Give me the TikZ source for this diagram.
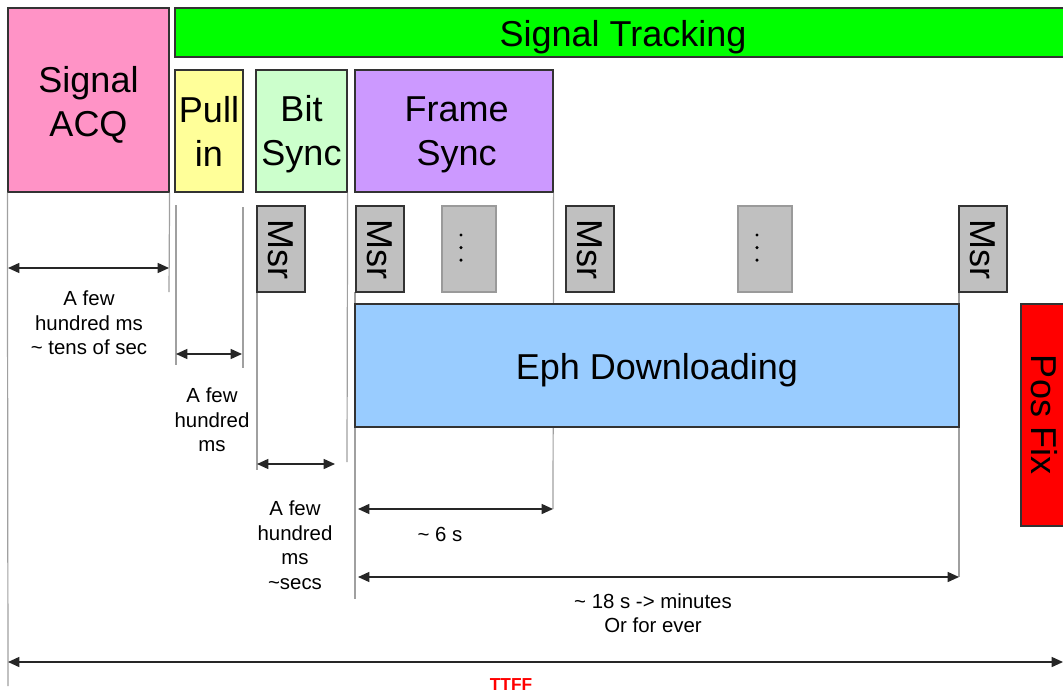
\documentclass[tikz,border=0pt]{standalone}
\usepackage{fontspec}
\setmainfont{Liberation Sans}
\usetikzlibrary{arrows.meta}
\definecolor{acqpink}{HTML}{FF93C6}
\definecolor{trackgreen}{HTML}{00FF00}
\definecolor{pullyellow}{HTML}{FFFF99}
\definecolor{bitgreen}{HTML}{CCFFCC}
\definecolor{framepurple}{HTML}{CC99FF}
\definecolor{msrgray}{HTML}{C0C0C0}
\definecolor{ephblue}{HTML}{99CCFF}
\definecolor{fixred}{HTML}{FF0000}
\definecolor{boxline}{HTML}{333333}
\definecolor{guidegray}{HTML}{A0A0A0}
\definecolor{dotline}{HTML}{9A9A9A}
\definecolor{ttffred}{HTML}{FF0000}
\begin{document}
\begin{tikzpicture}[x=0.75pt,y=-0.75pt,
  phase/.style={draw=boxline, line width=0.9pt, inner sep=0pt, align=center,
    font=\fontsize{27}{33}\selectfont,
    execute at begin node={\rule{0pt}{27pt}},
    execute at end node={\rule[-6pt]{0pt}{6pt}}},
  ptext/.style={align=center, inner sep=0pt, font=\fontsize{27}{33}\selectfont},
  msrbox/.style={draw=boxline, line width=0.9pt, inner sep=0pt, align=center,
    font=\fontsize{27}{33}\selectfont, fill=msrgray, rotate=-90,
    minimum width=64.5pt, minimum height=36pt},
  dotbox/.style={draw=dotline, line width=0.8pt, fill=msrgray, inner sep=0pt,
    minimum width=40.5pt, minimum height=64.5pt},
  guide/.style={draw=guidegray, line width=0.9pt},
  span/.style={draw=black!85, line width=1.1pt, {Triangle[length=8.5pt,width=7.5pt]}-{Triangle[length=8.5pt,width=7.5pt]}},
  note/.style={align=center, inner sep=0pt, font=\fontsize{15.3}{18.4}\selectfont}]
\useasboundingbox (0,0) rectangle (1063,696);

% phase boxes
\node[draw=boxline, line width=0.9pt, fill=acqpink, minimum width=120.75pt, minimum height=138pt,
  label={[ptext, yshift=-3.4pt]center:Signal\\ACQ}] (acq) at (88.5,100) {};
\node[phase, fill=trackgreen, minimum width=672pt, minimum height=36.75pt] (track) at (623,32.5) {Signal Tracking};
\node[draw=boxline, line width=0.9pt, fill=pullyellow, minimum width=51pt, minimum height=91.5pt,
  label={[ptext]center:Pull\\in}] (pull) at (209,131) {};
\node[draw=boxline, line width=0.9pt, fill=bitgreen, minimum width=68.25pt, minimum height=91.5pt,
  label={[ptext, yshift=-2.2pt]center:Bit\\Sync}] (bit) at (301.5,131) {};
\node[draw=boxline, line width=0.9pt, fill=framepurple, minimum width=148.5pt, minimum height=91.5pt,
  label={[ptext, yshift=-3.2pt, xshift=2pt]center:Frame\\Sync}] (frame) at (454,131) {};

% guide lines (drawn before the boxes that cover them)
\coordinate (acqL) at (8,686);
\coordinate (acqRb) at (169,292);
\coordinate (pullLt) at (176,205);
\coordinate (pullLb) at (176,365);
\coordinate (pullRt) at (243,207);
\coordinate (pullRb) at (243,368);
\coordinate (bitLt) at (257,292);
\coordinate (bitLb) at (257,470);
\coordinate (bitRb) at (347,462);
\coordinate (frameLt) at (355,292);
\coordinate (frameLb) at (355,599);
\coordinate (frameRb) at (553,509);
\coordinate (ephRt) at (959,292);
\coordinate (ephRb) at (959,577);
\draw[guide] (acq.south west) -- (acqL);
\draw[guide] (acq.south east) -- (acqRb);
\draw[guide] (pullLt) -- (pullLb);
\draw[guide] (pullRt) -- (pullRb);
\draw[guide] (bitLt) -- (bitLb);
\draw[guide] (bit.south east) -- (bitRb);
\draw[guide] (frameLt) -- (frameLb);
\draw[guide] (frame.south east) -- (frameRb);
\draw[guide] (ephRt) -- (ephRb);

% measurement boxes
\node[msrbox] (m1) at (281,249) {Msr};
\node[msrbox] (m2) at (380,249) {Msr};
\node[dotbox] (d1) at (469,249) {};
\node[msrbox] (m3) at (590,249) {Msr};
\node[dotbox] (d2) at (765,249) {};
\node[msrbox] (m4) at (983,249) {Msr};
\foreach \d in {d1,d2}
  \foreach \k in {-1,0,1}
    \fill ([xshift=-6pt,yshift=1.1pt+\k*9.4pt]\d.center) circle (1.3pt);

% downloading and fix
\node[phase, fill=ephblue, minimum width=453pt, minimum height=92.25pt] (eph) at (657,365.5) {Eph Downloading};
\node[msrbox, fill=fixred, minimum width=166.5pt, minimum height=34.5pt] (fix) at (1044,415) {Pos Fix};

% duration spans
\coordinate (s1a) at (8,268);    \coordinate (s1b) at (169,268);
\coordinate (s2a) at (176,354);  \coordinate (s2b) at (242,354);
\coordinate (s3a) at (257,464);  \coordinate (s3b) at (335,464);
\coordinate (s4a) at (358,509);  \coordinate (s4b) at (553,509);
\coordinate (s5a) at (358,577);  \coordinate (s5b) at (959,577);
\coordinate (s6a) at (8,662);    \coordinate (s6b) at (1063,662);
\draw[span] (s1a) -- (s1b);
\draw[span] (s2a) -- (s2b);
\draw[span] (s3a) -- (s3b);
\draw[span] (s4a) -- (s4b);
\draw[span] (s5a) -- (s5b);
\draw[span] (s6a) -- (s6b);

% duration labels
\node[note] (n1) at (89,323) {A few\\hundred ms\\\textasciitilde{} tens of sec};
\node[note] (n2) at (212,420) {A few\\hundred\\ms};
\node[note] (n3) at (295,545) {A few\\hundred\\ms\\\textasciitilde secs};
\node[note] (n4) at (440,534) {\textasciitilde{} 6 s};
\node[note] (n5) at (653,613) {\textasciitilde{} 18 s -> minutes\\Or for ever};
\node[inner sep=0pt, text=ttffred, font=\fontsize{13}{15}\selectfont\bfseries] (ttff) at (511,685) {TTFF};
\end{tikzpicture}
\end{document}
